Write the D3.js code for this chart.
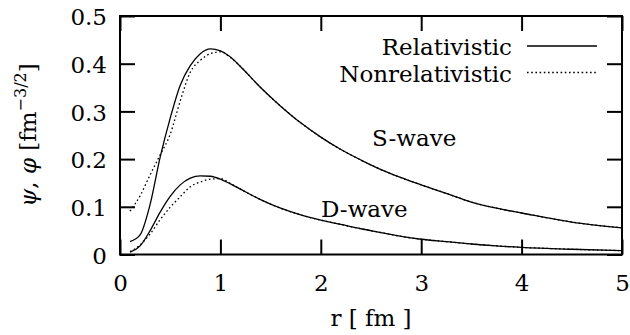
<!DOCTYPE html>
<html>
<head>
<meta charset="utf-8">
<script src="https://cdn.jsdelivr.net/npm/d3@7"></script>
<style>
  body { margin: 0; background: #fff; }
  svg { display: block; font-family: "DejaVu Serif", serif; }
  .axis text { font-size: 23px; fill: #000; font-family: "DejaVu Serif", serif; }
  .axis line { stroke: #000; stroke-width: 2; }
  .axis path { display: none; }
  .label { font-size: 23px; fill: #000; }
</style>
</head>
<body>
<svg width="630" height="335"></svg>
<script>
// radius grid [fm]
const rVals = [0.1, 0.2, 0.3, 0.4, 0.5, 0.6, 0.7, 0.8, 0.9, 1.0, 1.1, 1.2, 1.4, 1.6, 1.8,
               2.0, 2.2, 2.4, 2.6, 2.8, 3.0, 3.25, 3.5, 3.75, 4.0, 4.5, 5.0];

const sRel = [0.027, 0.041, 0.105, 0.204, 0.286, 0.355, 0.396, 0.421, 0.431, 0.427, 0.414, 0.394, 0.350, 0.311, 0.276,
              0.246, 0.220, 0.198, 0.178, 0.161, 0.146, 0.128, 0.110, 0.097, 0.087, 0.068, 0.056];
const sNonrel = [0.091, 0.123, 0.167, 0.209, 0.252, 0.322, 0.382, 0.407, 0.421, 0.425, 0.413, 0.394, 0.350, 0.311, 0.276,
                 0.246, 0.220, 0.198, 0.178, 0.161, 0.146, 0.128, 0.110, 0.097, 0.087, 0.068, 0.056];
const dRel = [0.005, 0.018, 0.050, 0.089, 0.122, 0.146, 0.160, 0.165, 0.164, 0.158, 0.148, 0.137, 0.115, 0.097, 0.083,
              0.072, 0.063, 0.054, 0.046, 0.038, 0.032, 0.027, 0.022, 0.018, 0.015, 0.011, 0.008];
const dNonrel = [0.006, 0.020, 0.043, 0.073, 0.099, 0.121, 0.142, 0.152, 0.158, 0.159, 0.149, 0.137, 0.115, 0.097, 0.083,
                 0.072, 0.063, 0.054, 0.046, 0.038, 0.032, 0.027, 0.022, 0.018, 0.015, 0.011, 0.008];

const xTicks = [0, 1, 2, 3, 4, 5];
const yTicks = [0, 0.1, 0.2, 0.3, 0.4, 0.5];
const legendNames = ["Relativistic", "Nonrelativistic"];

const svg = d3.select("svg");
const m = { left: 120, right: 622, top: 16, bottom: 254.5 };

const x = d3.scaleLinear().domain([0, 5]).range([m.left, m.right]);
const y = d3.scaleLinear().domain([0, 0.5]).range([m.bottom, m.top]);

// axes with inward ticks
svg.append("g").attr("class", "axis").attr("transform", `translate(0,${m.bottom})`)
    .call(d3.axisBottom(x).tickValues(xTicks).tickFormat(d3.format("d")).tickSize(-15).tickPadding(20))
    .selectAll("text").attr("dy", "0.72em");
svg.append("g").attr("class", "axis").attr("transform", `translate(0,${m.top})`)
    .call(d3.axisTop(x).tickValues(xTicks).tickFormat("").tickSize(-15));
svg.append("g").attr("class", "axis").attr("transform", `translate(${m.left},0)`)
    .call(d3.axisLeft(y).tickValues(yTicks).tickFormat(d => d === 0 ? "0" : d3.format(".1f")(d)).tickSize(-15).tickPadding(13))
    .selectAll("text").attr("dy", "0.38em");
svg.append("g").attr("class", "axis").attr("transform", `translate(${m.right},0)`)
    .call(d3.axisRight(y).tickValues(yTicks).tickFormat("").tickSize(-15));

// frame
svg.append("rect").attr("x", m.left).attr("y", m.top)
    .attr("width", m.right - m.left).attr("height", m.bottom - m.top)
    .attr("fill", "none").attr("stroke", "#000").attr("stroke-width", 2);

const line = d3.line().x(d => x(d[0])).y(d => y(d[1])).curve(d3.curveMonotoneX);
const series = [
  { vals: sRel, dash: null },
  { vals: sNonrel, dash: "1.6,2.6" },
  { vals: dRel, dash: null },
  { vals: dNonrel, dash: "1.6,2.6" }
];
series.forEach(s => {
  svg.append("path")
      .datum(rVals.map((r, i) => [r, s.vals[i]]))
      .attr("d", line)
      .attr("fill", "none")
      .attr("stroke", "#000")
      .attr("stroke-width", 1.3)
      .attr("stroke-dasharray", s.dash);
});

// legend
legendNames.forEach((name, i) => {
  const yy = 46 + i * 26.5;
  svg.append("text").attr("class", "label").attr("x", 512).attr("y", yy + 9)
      .attr("text-anchor", "end").text(name);
  svg.append("line").attr("x1", 527).attr("x2", 597).attr("y1", yy).attr("y2", yy)
      .attr("stroke", "#000").attr("stroke-width", 1.3)
      .attr("stroke-dasharray", i ? "1.6,2.6" : null);
});

svg.append("text").attr("class", "label").attr("x", 372).attr("y", 146).text("S-wave");
svg.append("text").attr("class", "label").attr("x", 321).attr("y", 217).text("D-wave");

// axis titles
svg.append("text").attr("class", "label").attr("x", x(2.5)).attr("y", 326)
    .attr("text-anchor", "middle").text("r [ fm ]");

const yt = svg.append("text").attr("class", "label")
    .attr("transform", "translate(36,135) rotate(-90)")
    .attr("text-anchor", "middle");
yt.append("tspan").attr("font-style", "italic").text("ψ");
yt.append("tspan").text(", ");
yt.append("tspan").attr("font-style", "italic").text("φ");
yt.append("tspan").text(" [fm");
yt.append("tspan").attr("font-size", "16px").attr("dy", -10).text("−3/2");
yt.append("tspan").attr("dy", 10).text("]");
</script>
</body>
</html>
